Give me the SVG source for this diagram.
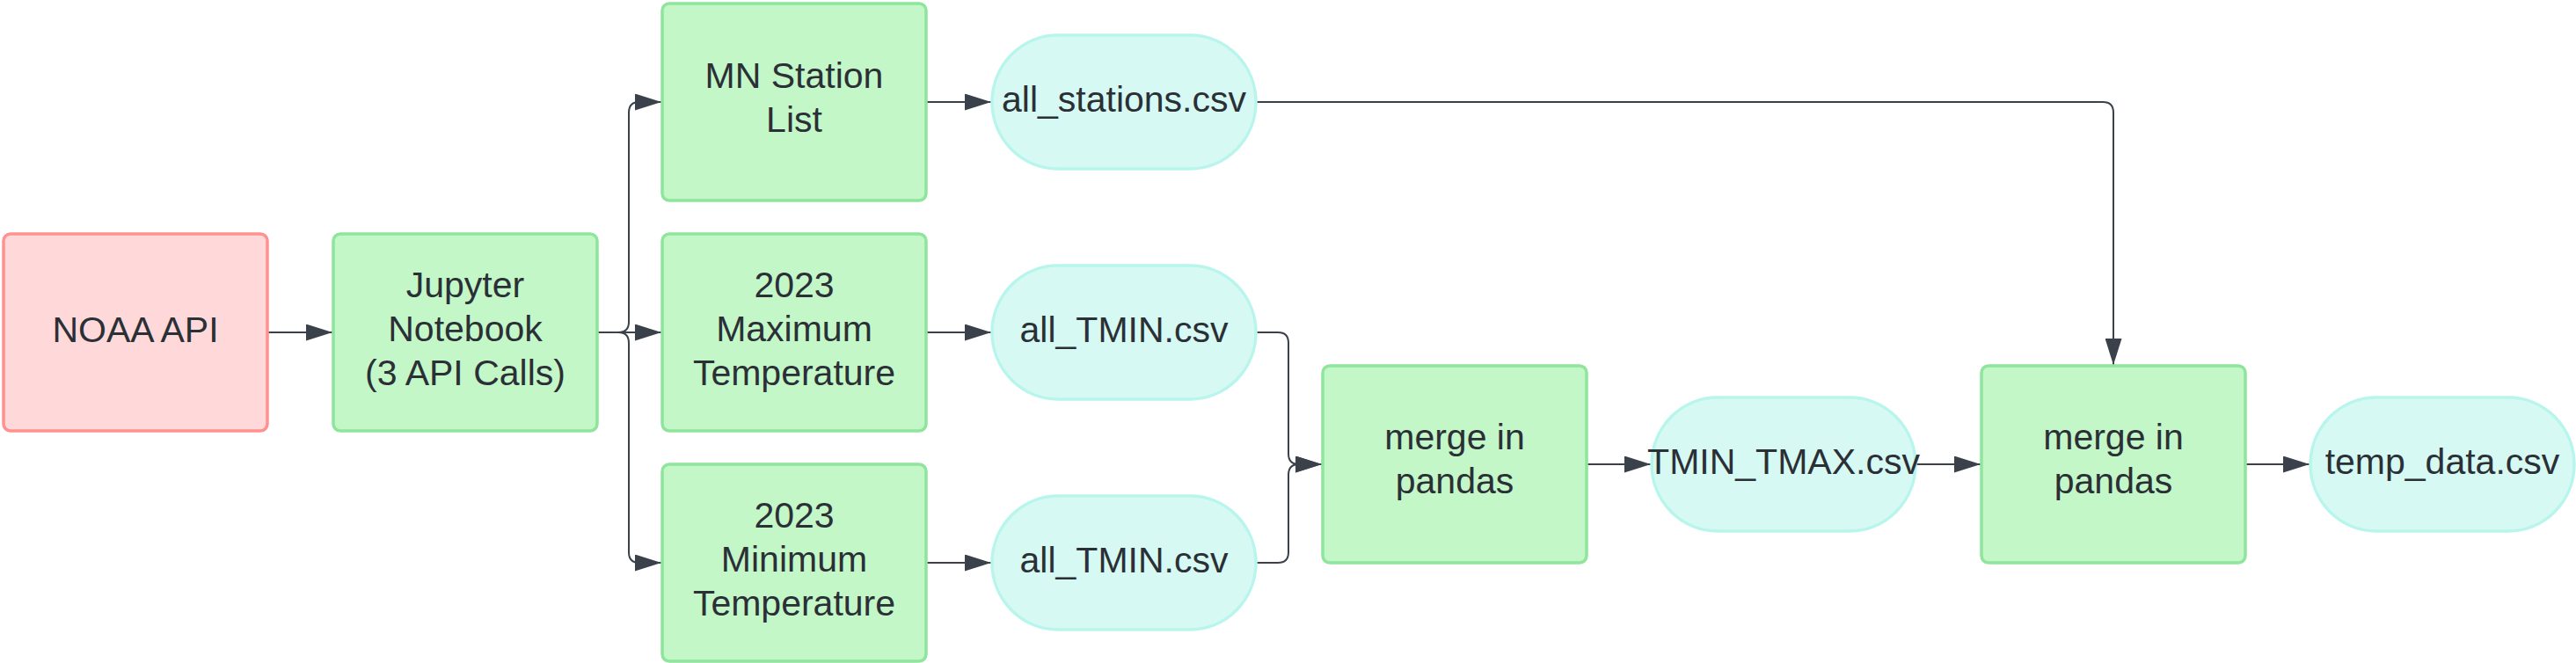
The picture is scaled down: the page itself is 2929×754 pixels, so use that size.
<svg xmlns="http://www.w3.org/2000/svg" width="2929" height="754" viewBox="0 0 2929 754">
<style>
.box{fill:#c3f7c8;stroke:#8fe59b;stroke-width:3.5}
.src{fill:#ffd9da;stroke:#ff9190;stroke-width:3.5}
.pill{fill:#d6f9f3;stroke:#b8f5ec;stroke-width:3.5}
text{font-family:"Liberation Sans",Arial,sans-serif;font-size:41px;fill:#2b2f36;text-anchor:middle}
.c{fill:none;stroke:#3a414a;stroke-width:2;marker-end:url(#ah)}
</style>
<defs>
<marker id="ah" markerUnits="userSpaceOnUse" markerWidth="30" markerHeight="19" refX="30" refY="9.5" orient="auto" viewBox="0 0 30 19">
<path d="M0,0 L30,9.5 L0,19 Z" fill="#3a414a"/>
</marker>
</defs>
<rect width="2929" height="754" fill="#ffffff"/>
<g id="connectors">
<path class="c" d="M304,378 H378"/>
<path class="c" d="M679,378 H703 Q715,378 715,366 V128 Q715,116 727,116 H752"/>
<path class="c" d="M679,378 H752"/>
<path class="c" d="M679,378 H703 Q715,378 715,390 V628 Q715,640 727,640 H752"/>
<path class="c" d="M1053,116 H1127"/>
<path class="c" d="M1053,378 H1127"/>
<path class="c" d="M1053,640 H1127"/>
<path class="c" d="M1428,378 H1453 Q1465,378 1465,390 V516 Q1465,528 1477,528 H1503"/>
<path class="c" d="M1428,640 H1453 Q1465,640 1465,628 V540 Q1465,528 1477,528 H1503"/>
<path class="c" d="M1428,116 H2391 Q2403,116 2403,128 V415"/>
<path class="c" d="M1804,528 H1877"/>
<path class="c" d="M2178,528 H2252"/>
<path class="c" d="M2553,528 H2626"/>
</g>
<g id="noaa"><rect class="src" x="4" y="266" width="300" height="224" rx="8"/><text x="154" y="389">NOAA API</text></g>
<g id="jupyter"><rect class="box" x="379" y="266" width="300" height="224" rx="8"/><text x="529" y="338">Jupyter</text><text x="529" y="388">Notebook</text><text x="529" y="438">(3 API Calls)</text></g>
<g id="mn_station"><rect class="box" x="753" y="4" width="300" height="224" rx="8"/><text x="903" y="100">MN Station</text><text x="903" y="150">List</text></g>
<g id="max_temp"><rect class="box" x="753" y="266" width="300" height="224" rx="8"/><text x="903" y="338">2023</text><text x="903" y="388">Maximum</text><text x="903" y="438">Temperature</text></g>
<g id="min_temp"><rect class="box" x="753" y="528" width="300" height="224" rx="8"/><text x="903" y="600">2023</text><text x="903" y="650">Minimum</text><text x="903" y="700">Temperature</text></g>
<g id="all_stations"><rect class="pill" x="1128" y="40" width="300" height="152" rx="75" ry="76"/><text x="1278" y="127">all_stations.csv</text></g>
<g id="all_tmin_1"><rect class="pill" x="1128" y="302" width="300" height="152" rx="75" ry="76"/><text x="1278" y="389">all_TMIN.csv</text></g>
<g id="all_tmin_2"><rect class="pill" x="1128" y="564" width="300" height="152" rx="75" ry="76"/><text x="1278" y="651">all_TMIN.csv</text></g>
<g id="merge1"><rect class="box" x="1504" y="416" width="300" height="224" rx="8"/><text x="1654" y="511">merge in</text><text x="1654" y="561">pandas</text></g>
<g id="tmin_tmax"><rect class="pill" x="1878" y="452" width="300" height="152" rx="75" ry="76"/><text x="2028" y="539">TMIN_TMAX.csv</text></g>
<g id="merge2"><rect class="box" x="2253" y="416" width="300" height="224" rx="8"/><text x="2403" y="511">merge in</text><text x="2403" y="561">pandas</text></g>
<g id="temp_data"><rect class="pill" x="2627" y="452" width="300" height="152" rx="75" ry="76"/><text x="2777" y="539">temp_data.csv</text></g>
</svg>
